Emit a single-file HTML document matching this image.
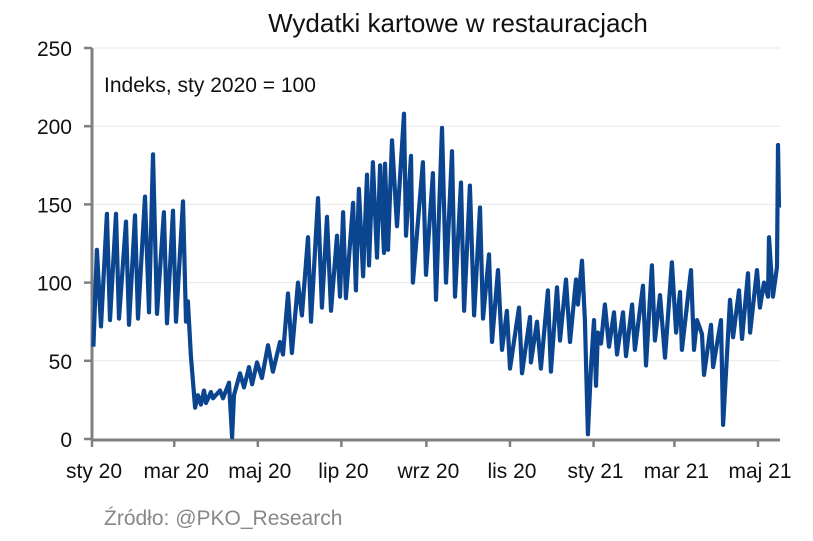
<!DOCTYPE html>
<html><head><meta charset="utf-8"><style>
body{margin:0;background:#fff;width:813px;height:536px;overflow:hidden;font-family:"Liberation Sans",sans-serif}
svg text{font-family:"Liberation Sans",sans-serif}
</style></head><body>
<svg id="chart" width="813" height="536" viewBox="0 0 813 536">
<text x="458" y="32" font-size="26" text-anchor="middle" fill="#111">Wydatki kartowe w restauracjach</text>
<text x="104" y="92" font-size="21" fill="#111">Indeks, sty 2020 = 100</text>
<text x="104" y="525" font-size="21" fill="#888">Źródło: @PKO_Research</text>
<g id="grid"></g><g id="axes"></g><path id="line" fill="none" stroke="#0b4590" stroke-width="4.2" stroke-linejoin="round"/>
</svg>
<script>
const yTicks=[0,50,100,150,200,250];
const xTickLabels=["sty 20","mar 20","maj 20","lip 20","wrz 20","lis 20","sty 21","mar 21","maj 21"];
const xTickDays=[0,60,121,182,244,305,366,425,486];
const days=[1,3.6,6.6,10.9,13.1,17.5,19.7,24.8,27,31.4,33.6,38.7,41.6,44.5,47.4,52.5,54.7,59.1,61.3,66.4,68.6,70,72.2,75.2,77.3,79.5,81.7,83.2,86.8,88.3,93.4,95.6,100,102.2,103.6,108,110.9,114.6,116.8,120.4,124,128.4,132,137.2,139.4,143,145.9,150.3,153.2,157.6,159.8,164.9,167.8,171.5,174.4,178.8,181,183.2,185.3,190.5,192.6,194.8,197.8,200.7,202.1,205,208,210.2,213.1,213.8,216,218.9,222.6,227.7,229.1,232.8,234.2,241.5,243.7,248.8,251,255.4,258.3,262.7,264.9,269.3,271.5,275.8,278.8,283.1,285.3,289.7,291.9,296.3,299.2,302.8,305,311.6,313.8,319.6,320.3,324.7,327.6,332.7,334.9,339.3,341.5,345.9,348.8,353.2,354.6,357.6,359.7,361.9,364.1,366.3,367.8,369.2,371.4,374.3,377.3,380.9,383.1,387.5,389.7,394.1,396.2,402.1,404.3,408.6,410.8,414.5,418.1,423.2,426.2,429.1,430.5,437.1,439.3,441.5,445.1,446.6,451.7,453.2,459,460.5,463.4,465.6,467.8,472.1,474.3,478.7,480.2,485.3,487.4,490.4,493.3,494,496.9,499.9,500.6,501.3];
const values=[59,121,72,144,76,144,77,139,73,143,77,155,81,182,80,145,74,146,75,152,75,88,53,20,28,22,31,23,30,26,31,26,36,1,28,42,33,46,35,49,39,60,43,62,54,93,55,100,79,129,75,154,84,142,82,130,91,145,90,151,95,160,104,169,111,177,116,175,119,176,121,191,136,208,130,181,100,177,105,170,89,199,100,184,91,164,82,162,79,148,77,118,62,108,57,82,45,84,42,78,49,75,45,95,43,97,63,102,62,102,86,114,76,3,46,76,34,68,61,86,59,81,54,81,53,86,57,98,47,111,63,92,52,113,68,94,57,108,57,76,67,41,73,46,76,9,54,89,65,95,64,106,68,108,84,100,91,129,91,110,188,148];
const X=d=>92+d*(758-92)/486, Y=v=>439-v*(439-48)/250;
const ns="http://www.w3.org/2000/svg", g=document.getElementById('grid'), ax=document.getElementById('axes');
yTicks.forEach(t=>{
 if(t>0){const l=document.createElementNS(ns,'line');
 
 
 l.setAttribute('x1',92);l.setAttribute('x2',780);l.setAttribute('y1',Y(t));l.setAttribute('y2',Y(t));l.setAttribute('stroke','#e8e8e8');g.appendChild(l);}
 const tk=document.createElementNS(ns,'line');
 
 
 tk.setAttribute('x1',84);tk.setAttribute('x2',92);tk.setAttribute('y1',Y(t));tk.setAttribute('y2',Y(t));tk.setAttribute('stroke','#808080');tk.setAttribute('stroke-width','2.5');ax.appendChild(tk);
 const tx=document.createElementNS(ns,'text');
 
 
 tx.setAttribute('x',72);tx.setAttribute('y',Y(t)+8);tx.setAttribute('text-anchor','end');tx.setAttribute('font-size','21');tx.setAttribute('fill','#111');tx.textContent=t;ax.appendChild(tx);
});
xTickDays.forEach((d,i)=>{
 const tk=document.createElementNS(ns,'line');
 
 
 tk.setAttribute('x1',X(d));tk.setAttribute('x2',X(d));tk.setAttribute('y1',439);tk.setAttribute('y2',447);tk.setAttribute('stroke','#808080');tk.setAttribute('stroke-width','2.5');ax.appendChild(tk);
 const tx=document.createElementNS(ns,'text');
 
 
 tx.setAttribute('x',X(d)+2);tx.setAttribute('y',478);tx.setAttribute('text-anchor','middle');tx.setAttribute('font-size','21');tx.setAttribute('fill','#111');tx.textContent=xTickLabels[i];ax.appendChild(tx);
});
[[92,48,92,440],[91,440,780,440]].forEach(c=>{const l=document.createElementNS(ns,'line');
 
 
 l.setAttribute('x1',c[0]);l.setAttribute('y1',c[1]);l.setAttribute('x2',c[2]);l.setAttribute('y2',c[3]);l.setAttribute('stroke','#808080');l.setAttribute('stroke-width','3');ax.appendChild(l);});
document.getElementById('line').setAttribute('d',days.map((d,i)=>(i?'L':'M')+X(d).toFixed(1)+' '+Y(values[i]).toFixed(1)).join(''));
</script>
</body></html>
